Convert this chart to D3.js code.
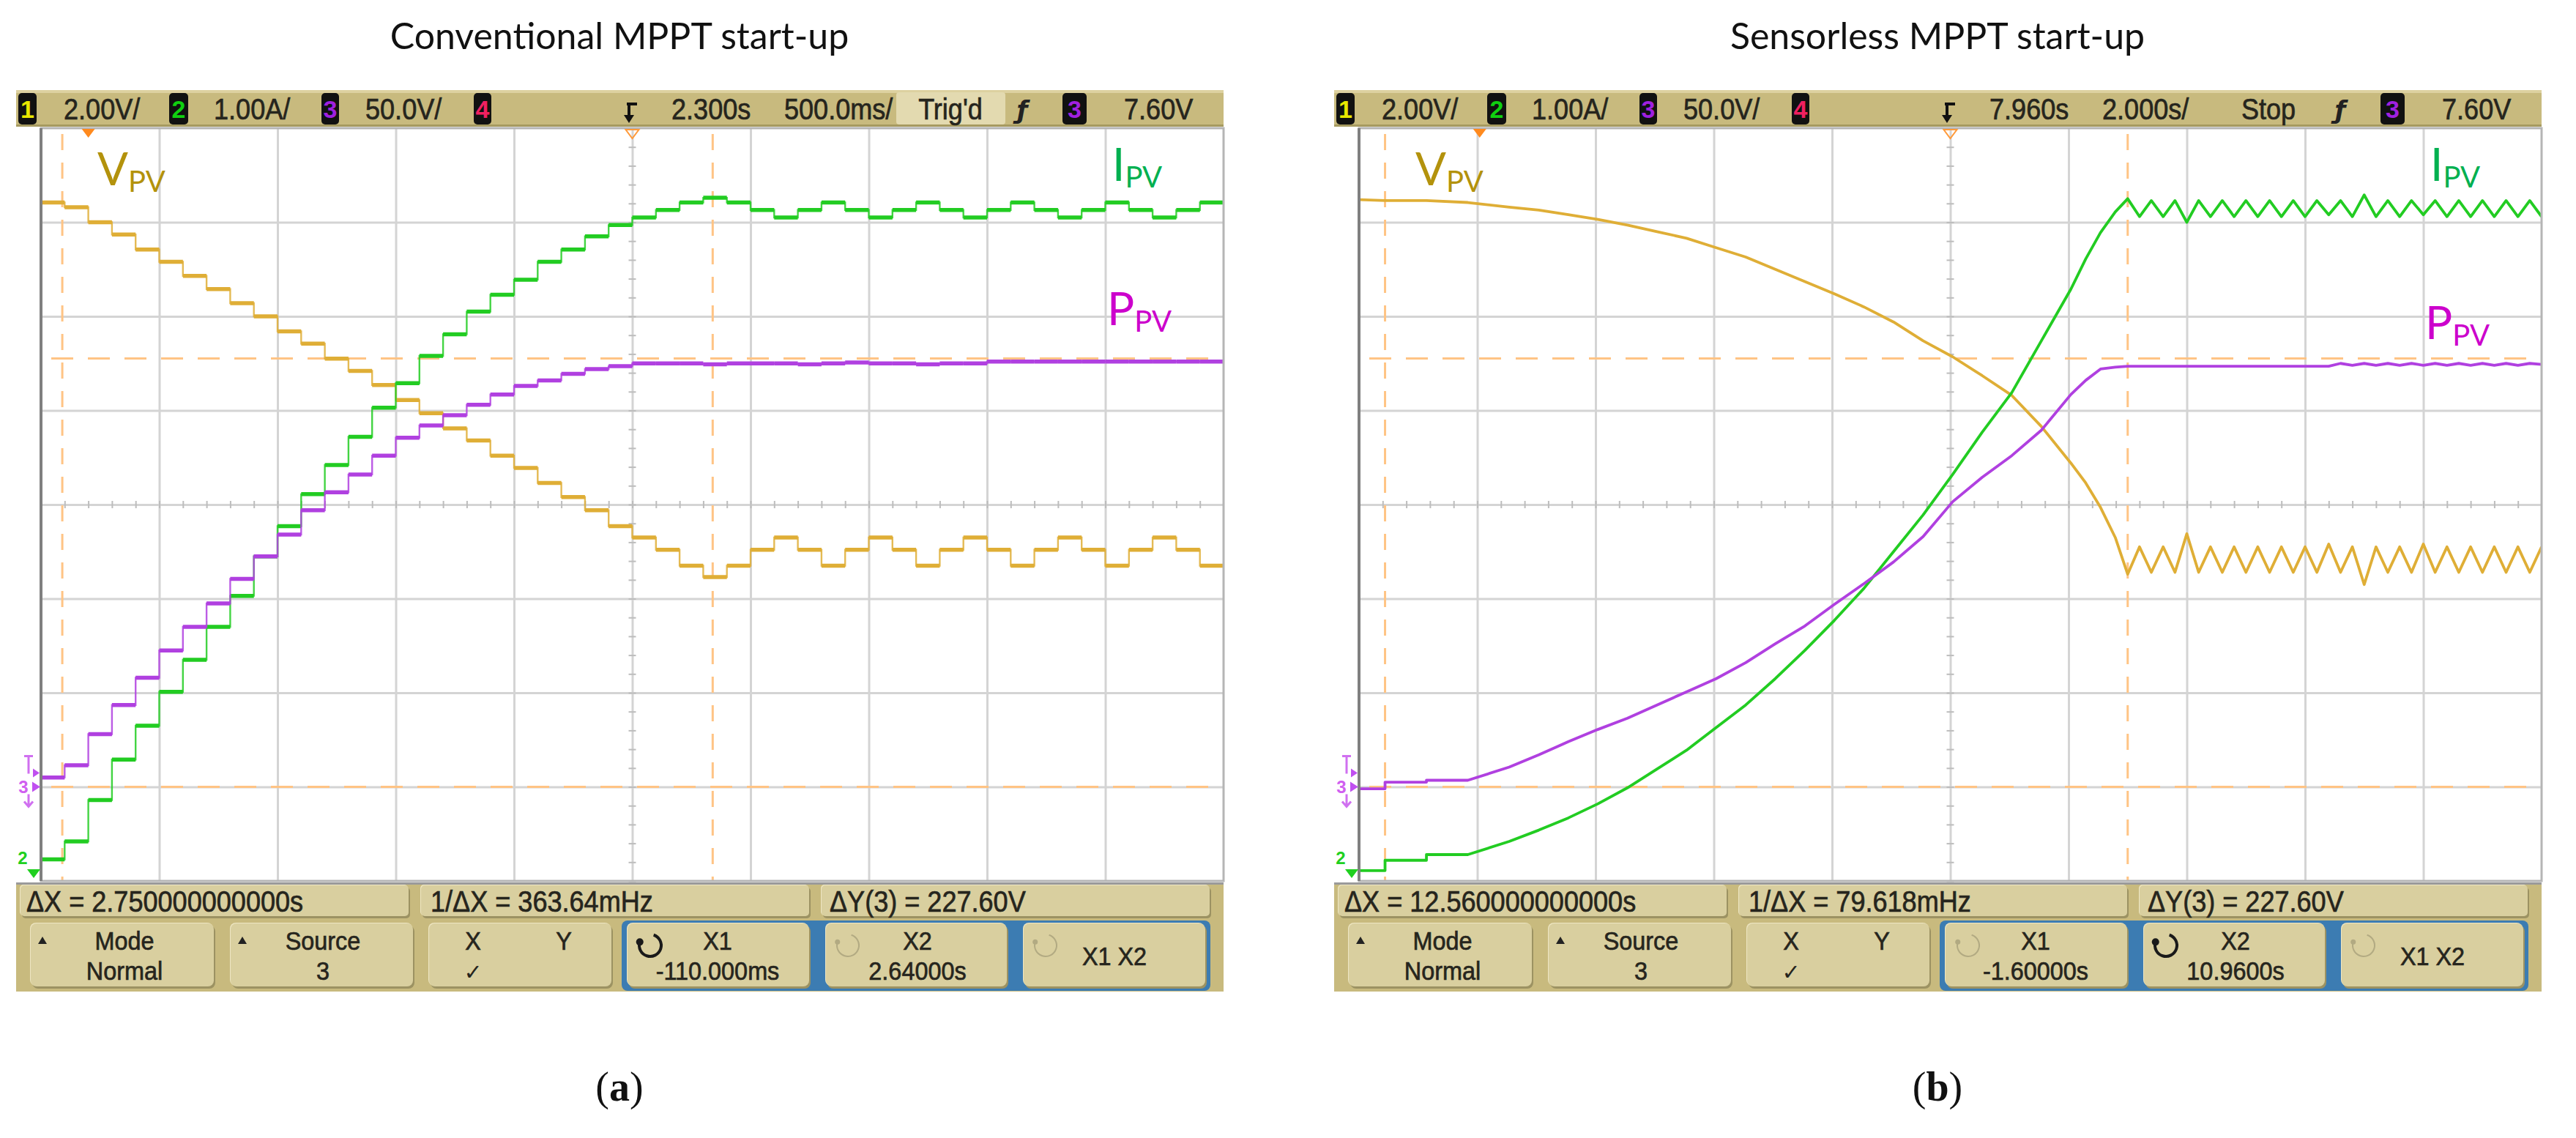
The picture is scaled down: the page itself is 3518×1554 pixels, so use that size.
<!DOCTYPE html>
<html><head><meta charset="utf-8">
<script src="https://cdn.jsdelivr.net/npm/d3@7"></script>
<style>html,body{margin:0;padding:0;background:#fff;}svg{display:block}</style>
</head><body>
<svg id="chart" width="3518" height="1554"></svg>
<script>
// ---------------- DATA (trace values in scope divisions; ch1 2 V/div, ch2 1 A/div, ch3 50 V/div) ----------------
const panelTitles = ["Conventional MPPT start-up", "Sensorless MPPT start-up"];
const panelTags = ["a", "b"];
const chScaleLabels = ["2.00V/", "1.00A/", "50.0V/"];
const delayLabels = ["2.300s", "7.960s"];
const timebaseLabels = ["500.0ms/", "2.000s/"];
const runLabels = ["Trig'd", "Stop"];
const trigLevelLabel = "7.60V";
const dxLabels = ["\u0394X = 2.750000000000s", "\u0394X = 12.560000000000s"];
const invDxLabels = ["1/\u0394X = 363.64mHz", "1/\u0394X = 79.618mHz"];
const dyLabels = ["\u0394Y(3) = 227.60V", "\u0394Y(3) = 227.60V"];
const x1Labels = ["-110.000ms", "-1.60000s"];
const x2Labels = ["2.64000s", "10.9600s"];
const activeCursor = ["X1", "X2"];
const cursorX1 = [-0.11, -1.60];
const cursorX2 = [2.64, 10.96];
const cursorYdiv = [-3.0, 1.552];
const timeDomainA = [-0.2, 4.8];
const timeDomainB = [-2.04, 17.96];

// Panel (a): staircase, one level per 0.1 s step
const stepTimeA = [-0.2,-0.1,0,0.1,0.2,0.3,0.4,0.5,0.6,0.7,0.8,0.9,1.0,1.1,1.2,1.3,1.4,1.5,1.6,1.7,1.8,1.9,2.0,2.1,2.2,2.3,2.4,2.5,2.6,2.7,2.8,2.9,3.0,3.1,3.2,3.3,3.4,3.5,3.6,3.7,3.8,3.9,4.0,4.1,4.2,4.3,4.4,4.5,4.6,4.7];
const vPvA = [3.21,3.16,3.00,2.87,2.71,2.58,2.43,2.29,2.14,2.00,1.84,1.71,1.55,1.42,1.27,1.11,0.97,0.81,0.68,0.52,0.39,0.23,0.08,-0.06,-0.23,-0.35,-0.48,-0.65,-0.77,-0.65,-0.48,-0.35,-0.48,-0.65,-0.48,-0.35,-0.48,-0.65,-0.48,-0.35,-0.48,-0.65,-0.48,-0.35,-0.48,-0.65,-0.48,-0.35,-0.48,-0.65];
const iPvA = [-3.77,-3.58,-3.14,-2.71,-2.35,-1.99,-1.65,-1.30,-0.97,-0.55,-0.23,0.11,0.42,0.72,1.03,1.29,1.58,1.81,2.05,2.23,2.39,2.58,2.71,2.85,2.97,3.05,3.13,3.21,3.26,3.21,3.13,3.05,3.13,3.21,3.13,3.05,3.13,3.21,3.13,3.05,3.13,3.21,3.13,3.05,3.13,3.21,3.13,3.05,3.13,3.21];
const pPvA = [-2.90,-2.77,-2.44,-2.13,-1.84,-1.55,-1.30,-1.05,-0.79,-0.55,-0.32,-0.06,0.13,0.32,0.52,0.71,0.84,0.95,1.06,1.17,1.26,1.32,1.39,1.44,1.47,1.50,1.50,1.50,1.49,1.50,1.50,1.50,1.49,1.50,1.51,1.50,1.50,1.49,1.50,1.50,1.52,1.52,1.52,1.52,1.52,1.52,1.52,1.52,1.52,1.52];

// Panel (b): start-up transient
const timeB = [-2.04,-1.60,-1.60,-0.90,-0.90,-0.20,0.50,1.00,1.50,2.00,2.50,3.00,3.50,4.00,4.50,5.00,5.50,6.00,6.50,7.00,7.50,8.00,8.50,9.00,9.50,10.00,10.25,10.50,10.75,10.96];
const vPvB = [3.24,3.23,3.23,3.23,3.23,3.21,3.16,3.13,3.08,3.03,2.97,2.90,2.83,2.73,2.63,2.50,2.37,2.24,2.10,1.94,1.74,1.57,1.37,1.16,0.83,0.44,0.23,-0.03,-0.35,-0.74];
const iPvB = [-3.89,-3.89,-3.78,-3.78,-3.72,-3.72,-3.58,-3.46,-3.33,-3.18,-3.01,-2.81,-2.61,-2.37,-2.13,-1.85,-1.55,-1.23,-0.89,-0.50,-0.11,0.32,0.77,1.19,1.74,2.29,2.61,2.89,3.11,3.25];
const pPvB = [-3.02,-3.02,-2.95,-2.95,-2.93,-2.93,-2.79,-2.66,-2.52,-2.39,-2.27,-2.13,-1.99,-1.85,-1.68,-1.48,-1.29,-1.06,-0.84,-0.61,-0.34,0.03,0.29,0.52,0.79,1.17,1.32,1.44,1.46,1.47];
// Panel (b): steady-state MPPT oscillation
const timeBss = [10.96,11.16,11.36,11.56,11.76,11.96,12.16,12.36,12.56,12.76,12.96,13.16,13.36,13.56,13.76,13.96,14.16,14.36,14.56,14.76,14.96,15.16,15.36,15.56,15.76,15.96,16.16,16.36,16.56,16.76,16.96,17.16,17.36,17.56,17.76,17.96];
const vPvBss = [-0.74,-0.45,-0.72,-0.45,-0.72,-0.31,-0.72,-0.45,-0.72,-0.45,-0.72,-0.45,-0.72,-0.45,-0.72,-0.45,-0.72,-0.42,-0.72,-0.45,-0.85,-0.45,-0.72,-0.45,-0.72,-0.42,-0.72,-0.45,-0.72,-0.45,-0.72,-0.45,-0.72,-0.45,-0.72,-0.45];
const iPvBss = [3.25,3.06,3.23,3.06,3.23,3.00,3.23,3.06,3.23,3.06,3.23,3.06,3.23,3.06,3.23,3.06,3.23,3.08,3.23,3.06,3.29,3.06,3.23,3.06,3.23,3.08,3.23,3.06,3.23,3.06,3.23,3.06,3.23,3.06,3.23,3.06];
const pPvBss = [1.47,1.47,1.47,1.47,1.47,1.47,1.47,1.47,1.47,1.47,1.47,1.47,1.47,1.47,1.47,1.47,1.47,1.47,1.50,1.48,1.50,1.48,1.50,1.48,1.50,1.48,1.50,1.48,1.50,1.48,1.50,1.48,1.50,1.48,1.50,1.49];

// ---------------- STYLE ----------------
const C = {V:"#dfae36", I:"#22cc22", P:"#b040e0", Vlab:"#b3920c", Ilab:"#00b050", Plab:"#cc00cc",
  khaki:"#c8ba7e", btn:"#d9cf9f", btnHi:"#eee6c3", btnSh:"#9c9262", txt:"#26251d", cursor:"#ffc485", grid:"#d4d4d4", blue:"#3c7cb2"};
const G = {barX0:22, barX1:1671, topY0:123, topY1:173, gx0:56, gx1:1671, gy0:175, gy1:1203, botY0:1205, botY1:1354};

const svg = d3.select("#chart");
svg.append("rect").attr("width",3518).attr("height",1554).attr("fill","#fff");

function stext(g, x, y, s, o = {}) {
  return g.append("text")
    .attr("transform", `translate(${x},${y}) scale(${o.sx || 0.88},1)`)
    .attr("text-anchor", o.anchor || "start")
    .attr("dominant-baseline", "central")
    .attr("font-family", "'Liberation Sans', Arial, sans-serif")
    .attr("font-size", o.size || 41)
    .attr("fill", o.fill || C.txt)
    .attr("stroke", o.fill || C.txt).attr("stroke-width", 0.7)
    .text(s);
}
function bevel(g, x, y, w, h, fill, r = 7) {
  g.append("rect").attr("x", x + 2).attr("y", y + 3).attr("width", w).attr("height", h).attr("rx", r).attr("fill", C.btnSh);
  g.append("rect").attr("x", x - 1).attr("y", y - 1).attr("width", w).attr("height", h).attr("rx", r).attr("fill", C.btnHi);
  g.append("rect").attr("x", x).attr("y", y).attr("width", w).attr("height", h).attr("rx", r).attr("fill", fill);
}
function chBox(g, x, w, digit, color) {
  g.append("rect").attr("x", x).attr("y", 127).attr("width", w).attr("height", 43).attr("rx", 5).attr("fill", "#111");
  g.append("text").attr("x", x + w / 2).attr("y", 149).attr("text-anchor", "middle").attr("dominant-baseline", "central")
    .attr("font-family", "'Liberation Sans', Arial, sans-serif").attr("font-weight", "bold").attr("font-size", 34)
    .attr("fill", color).text(digit);
}
function knob(g, cx, cy, active) {
  const p = d3.path();
  p.arc(cx, cy, 15, -Math.PI * 0.4, Math.PI * 1.1);
  const col = active ? "#1a1a1a" : "#b2aa82";
  g.append("path").attr("d", p.toString()).attr("fill", "none").attr("stroke", col).attr("stroke-width", active ? 4 : 2);
  const a = Math.PI * 1.1;
  g.append("circle").attr("cx", cx + 15 * Math.cos(a)).attr("cy", cy + 15 * Math.sin(a)).attr("r", active ? 5 : 3.5).attr("fill", col);
}

function drawScope(k) {
  const dx = k === 0 ? 0 : 1800;
  const g = svg.append("g").attr("transform", `translate(${dx},0)`);
  const x = d3.scaleLinear().domain(k === 0 ? timeDomainA : timeDomainB).range([G.gx0, G.gx1]);
  const y = d3.scaleLinear().domain([-4, 4]).range([G.gy1, G.gy0]);
  const xd = d3.scaleLinear().domain([0, 10]).range([G.gx0, G.gx1]);
  const W = G.gx1 - G.gx0, H = G.gy1 - G.gy0;

  // ---- top status bar ----
  g.append("rect").attr("x", G.barX0).attr("y", G.topY0).attr("width", G.barX1 - G.barX0).attr("height", G.topY1 - G.topY0).attr("fill", C.khaki);
  g.append("rect").attr("x", G.barX0).attr("y", G.topY0).attr("width", G.barX1 - G.barX0).attr("height", 4).attr("fill", "#ddd1a0");
  g.append("rect").attr("x", G.barX0).attr("y", G.topY1 - 3).attr("width", G.barX1 - G.barX0).attr("height", 3).attr("fill", "#a69a60");
  chBox(g, 25, 25, "1", "#e8e800");
  stext(g, 87, 149, chScaleLabels[0]);
  chBox(g, 231, 26, "2", "#10d010");
  stext(g, 292, 149, chScaleLabels[1]);
  chBox(g, 439, 24, "3", "#a020e0");
  stext(g, 499, 149, chScaleLabels[2]);
  chBox(g, 647, 24, "4", "#f02060");
  // trigger position icon
  g.append("path").attr("d", "M856,142 h14 M859,142 v17").attr("stroke", "#111").attr("stroke-width", 4).attr("fill", "none");
  g.append("path").attr("d", "M852,157 L866,157 L859,168 Z").attr("fill", "#111");
  stext(g, 917, 149, delayLabels[k]);
  stext(g, 1071, 149, timebaseLabels[k]);
  if (k === 0) {
    g.append("rect").attr("x", 1224).attr("y", 126).attr("width", 149).attr("height", 44).attr("rx", 4).attr("fill", "#e3dab0");
  }
  stext(g, 1298, 149, runLabels[k], {anchor: "middle"});
  g.append("text").attr("x", 1396).attr("y", 150).attr("text-anchor", "middle").attr("dominant-baseline", "central")
    .attr("font-family", "'DejaVu Sans', sans-serif").attr("font-style", "italic").attr("font-weight", "bold")
    .attr("font-size", 34).attr("fill", "#222").text("\u0192");
  chBox(g, 1451, 33, "3", "#a020e0");
  stext(g, 1535, 149, trigLevelLabel);

  // ---- screen ----
  g.append("rect").attr("x", G.gx0).attr("y", G.gy0).attr("width", W).attr("height", H).attr("fill", "#fff");
  const gv = g.append("g").attr("transform", `translate(0,${G.gy1})`)
    .call(d3.axisBottom(xd).tickValues(d3.range(1, 10)).tickSize(-H).tickFormat(""));
  gv.select(".domain").remove();
  gv.selectAll("line").attr("stroke", C.grid).attr("stroke-width", 3);
  const gh = g.append("g").attr("transform", `translate(${G.gx0},0)`)
    .call(d3.axisLeft(y).tickValues(d3.range(-3, 4)).tickSize(-W).tickFormat(""));
  gh.select(".domain").remove();
  gh.selectAll("line").attr("stroke", C.grid).attr("stroke-width", 3);
  // minor ticks on center axes
  const cx = xd(5), cy = y(0);
  g.append("g").call(d3.axisBottom(xd).tickValues(d3.range(0, 50).map(i => i / 5)).tickSize(10).tickFormat(""))
    .attr("transform", `translate(0,${cy - 5})`).call(s => { s.select(".domain").remove(); s.selectAll("line").attr("stroke", "#bdbdbd").attr("stroke-width", 2); });
  g.append("g").call(d3.axisRight(y).tickValues(d3.range(-20, 20).map(i => i / 5)).tickSize(10).tickFormat(""))
    .attr("transform", `translate(${cx - 5},0)`).call(s => { s.select(".domain").remove(); s.selectAll("line").attr("stroke", "#bdbdbd").attr("stroke-width", 2); });

  const clipId = "clip" + k;
  g.append("clipPath").attr("id", clipId).append("rect").attr("x", G.gx0).attr("y", G.gy0).attr("width", W).attr("height", H);
  const plot = g.append("g").attr("clip-path", `url(#${clipId})`);

  // cursors
  [cursorX1[k], cursorX2[k]].forEach(t => {
    plot.append("line").attr("x1", x(t)).attr("x2", x(t)).attr("y1", G.gy0 + 8).attr("y2", G.gy1)
      .attr("stroke", C.cursor).attr("stroke-width", 3).attr("stroke-dasharray", "22,17");
  });
  cursorYdiv.forEach(v => {
    plot.append("line").attr("x1", G.gx0 + 14).attr("x2", G.gx1).attr("y1", y(v)).attr("y2", y(v))
      .attr("stroke", C.cursor).attr("stroke-width", 3).attr("stroke-dasharray", "30,20");
  });

  // traces
  if (k === 0) {
    const tEnd = timeDomainA[1];
    const series = [[vPvA, C.V], [iPvA, C.I], [pPvA, C.P]];
    series.forEach(([vals, col]) => {
      const pts = stepTimeA.map((t, i) => [t, vals[i]]).concat([[tEnd, vals[vals.length - 1]]]);
      plot.append("path").datum(pts)
        .attr("d", d3.line().x(d => x(d[0])).y(d => y(d[1])).curve(d3.curveStepAfter))
        .attr("fill", "none").attr("stroke", col).attr("stroke-width", 2.4).attr("opacity", 0.85);
      const segs = stepTimeA.map((t, i) => [t, i + 1 < stepTimeA.length ? stepTimeA[i + 1] : tEnd, vals[i]]);
      plot.selectAll(null).data(segs).join("line")
        .attr("x1", d => x(d[0])).attr("x2", d => x(d[1])).attr("y1", d => y(d[2])).attr("y2", d => y(d[2]))
        .attr("stroke", col).attr("stroke-width", 5.5);
    });
  } else {
    const series = [[vPvB, vPvBss, C.V], [iPvB, iPvBss, C.I], [pPvB, pPvBss, C.P]];
    series.forEach(([tr, ss, col]) => {
      const pts = timeB.map((t, i) => [t, tr[i]]).concat(timeBss.map((t, i) => [t, ss[i]]));
      plot.append("path").datum(pts)
        .attr("d", d3.line().x(d => x(d[0])).y(d => y(d[1])))
        .attr("fill", "none").attr("stroke", col).attr("stroke-width", 3.8).attr("stroke-linejoin", "round");
    });
  }

  // screen border
  g.append("rect").attr("x", G.gx0).attr("y", G.gy0).attr("width", W).attr("height", H)
    .attr("fill", "none").attr("stroke", "#b5b5b5").attr("stroke-width", 3);
  g.append("line").attr("x1", G.gx0).attr("x2", G.gx0).attr("y1", G.gy0).attr("y2", G.gy1).attr("stroke", "#808080").attr("stroke-width", 4);

  // top markers
  const t0 = x(0);
  g.append("path").attr("d", `M${t0 - 9},${G.gy0 + 1} L${t0 + 9},${G.gy0 + 1} L${t0},${G.gy0 + 13} Z`).attr("fill", "#ff8a1e");
  g.append("path").attr("d", `M${cx - 9},${G.gy0 + 2} L${cx + 9},${G.gy0 + 2} L${cx},${G.gy0 + 14} Z`)
    .attr("fill", "none").attr("stroke", "#ff9a3a").attr("stroke-width", 2);

  // ground markers at left
  const g3 = y(-3);
  const mk = g.append("g");
  mk.append("path").attr("d", `M33,${g3 - 42} h12 M39,${g3 - 42} v24`).attr("stroke", "#d070f0").attr("stroke-width", 3).attr("fill", "none");
  mk.append("path").attr("d", `M45,${g3 - 25} L54,${g3 - 19} L45,${g3 - 13} Z`).attr("fill", "#c050f0");
  mk.append("path").attr("d", `M44,${g3 - 7} L55,${g3} L44,${g3 + 7} Z`).attr("fill", "#c050f0");
  mk.append("text").attr("x", 32).attr("y", g3).attr("text-anchor", "middle").attr("dominant-baseline", "central")
    .attr("font-family", "'Liberation Sans', Arial, sans-serif").attr("font-weight", "bold").attr("font-size", 24).attr("fill", "#d060f0").text("3");
  mk.append("path").attr("d", `M39,${g3 + 10} v16 M33,${g3 + 20} L39,${g3 + 27} L45,${g3 + 20}`).attr("stroke", "#d070f0").attr("stroke-width", 3).attr("fill", "none");
  const g2 = G.gy1 - 10;
  mk.append("text").attr("x", 31).attr("y", g2 - 22).attr("text-anchor", "middle").attr("dominant-baseline", "central")
    .attr("font-family", "'Liberation Sans', Arial, sans-serif").attr("font-weight", "bold").attr("font-size", 24).attr("fill", "#20d020").text("2");
  mk.append("path").attr("d", `M37,${g2 - 6} L55,${g2 - 6} L46,${g2 + 6} Z`).attr("fill", "#20d020");

  // trace labels
  const lab = (xx, yy, main, col) => {
    const t = g.append("text").attr("x", xx).attr("y", yy).attr("font-family", "Lato, 'Open Sans', sans-serif").attr("fill", col);
    t.append("tspan").attr("font-size", 62).text(main);
    t.append("tspan").attr("font-size", 40).attr("dy", 9).text("PV");
  };
  lab(133, 253, "V", C.Vlab);
  lab(1519, 247, "I", C.Ilab);
  lab(1512, k === 0 ? 444 : 463, "P", C.Plab);

  // ---- bottom softkey area ----
  g.append("rect").attr("x", G.barX0).attr("y", G.botY0).attr("width", G.barX1 - G.barX0).attr("height", G.botY1 - G.botY0).attr("fill", C.khaki);
  g.append("rect").attr("x", G.barX0).attr("y", G.botY0).attr("width", G.barX1 - G.barX0).attr("height", 3).attr("fill", "#9a9a9a");
  [[28, 530], [575, 530], [1122, 530]].forEach(([bx, bw]) => bevel(g, bx, 1209, bw, 42, C.btn, 5));
  stext(g, 36, 1231, dxLabels[k]);
  stext(g, 588, 1231, invDxLabels[k]);
  stext(g, 1133, 1231, dyLabels[k]);
  // blue group
  g.append("rect").attr("x", 849).attr("y", 1257).attr("width", 804).attr("height", 96).attr("rx", 8).attr("fill", C.blue);
  [[42, 250], [315, 249], [586, 249], [857, 248], [1128, 247], [1398, 248]].forEach(([bx, bw]) => bevel(g, bx, 1261, bw, 86, C.btn, 8));
  const tri = (tx, ty) => g.append("path").attr("d", `M${tx - 6},${ty + 5} L${tx + 6},${ty + 5} L${tx},${ty - 5} Z`).attr("fill", "#222");
  tri(58, 1284); tri(331, 1284);
  const bs = {anchor: "middle", size: 36, sx: 0.9};
  const L1 = 1284, L2 = 1325;
  stext(g, 170, L1, "Mode", bs);
  stext(g, 170, L2, "Normal", bs);
  stext(g, 441, L1, "Source", bs);
  stext(g, 441, L2, "3", bs);
  stext(g, 646, L1, "X", bs);
  stext(g, 770, L1, "Y", bs);
  g.append("text").attr("x", 646).attr("y", L2 + 2).attr("text-anchor", "middle").attr("dominant-baseline", "central")
    .attr("font-family", "'DejaVu Sans', sans-serif").attr("font-size", 30).attr("fill", C.txt).text("\u2713");
  knob(g, 888, 1291, activeCursor[k] === "X1");
  stext(g, 980, L1, "X1", bs);
  stext(g, 980, L2, x1Labels[k], bs);
  knob(g, 1158, 1291, activeCursor[k] === "X2");
  stext(g, 1253, L1, "X2", bs);
  stext(g, 1253, L2, x2Labels[k], bs);
  knob(g, 1428, 1291, false);
  stext(g, 1522, 1305, "X1 X2", bs);

  // ---- title and tag ----
  g.append("text").attr("x", 846).attr("y", 67).attr("text-anchor", "middle")
    .attr("font-family", "Lato, 'Open Sans', sans-serif").attr("font-size", 50).attr("fill", "#111").text(panelTitles[k]);
  const tg = g.append("text").attr("x", 846).attr("y", 1503).attr("text-anchor", "middle")
    .attr("font-family", "'Liberation Serif', 'Times New Roman', serif").attr("font-size", 56).attr("fill", "#111");
  tg.append("tspan").text("(");
  tg.append("tspan").attr("font-weight", "bold").text(panelTags[k]);
  tg.append("tspan").text(")");
}

drawScope(0);
drawScope(1);
</script>
</body></html>
